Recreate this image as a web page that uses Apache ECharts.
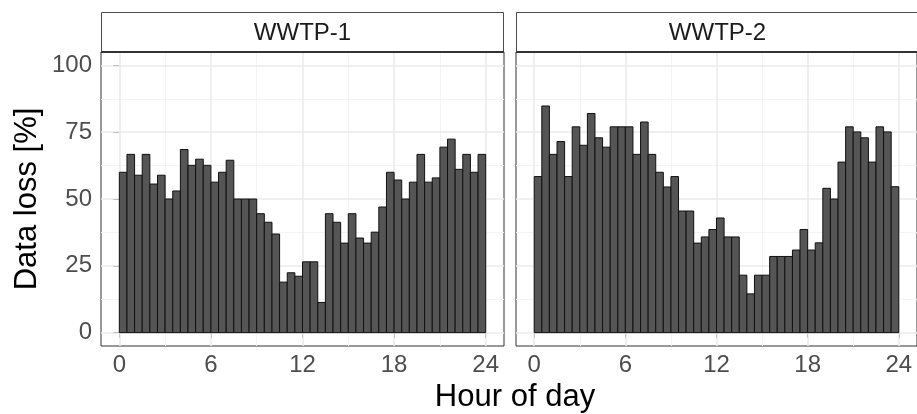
<!DOCTYPE html>
<html>
<head>
<meta charset="utf-8">
<script src="https://cdn.jsdelivr.net/npm/echarts@6/dist/echarts.min.js"></script>
<style>
html,body{margin:0;padding:0;background:#fff;}
#chart{width:917px;height:414px;}
</style>
</head>
<body>
<div id="chart"></div>
<script>
// Half-hour bin starts (hour of day)
const binStart = [0,0.5,1,1.5,2,2.5,3,3.5,4,4.5,5,5.5,6,6.5,7,7.5,8,8.5,9,9.5,10,10.5,11,11.5,
                  12,12.5,13,13.5,14,14.5,15,15.5,16,16.5,17,17.5,18,18.5,19,19.5,20,20.5,21,21.5,22,22.5,23,23.5];
const binWidth = 0.5;
const panels = ['WWTP-1', 'WWTP-2'];
const lossWWTP1 = [60, 66.7, 58.9, 66.7, 55.6, 58.9, 50, 53, 68.5, 62.6,
                   64.9, 62.6, 56.3, 60, 64.5, 50, 50, 50, 44.5, 41.3,
                   36.9, 18.9, 22.4, 21.1, 26.5, 26.5, 11.3, 44.5, 41.3, 33.5,
                   44.5, 35.4, 33.5, 37.6, 47, 60, 57.1, 50, 56.3, 66.7,
                   56.3, 57.9, 69.4, 72.4, 61.1, 66.7, 60, 66.7];
const lossWWTP2 = [58.4, 84.8, 66.7, 71.5, 58.4, 77, 70.1, 82, 72.9, 69.4,
                   77, 77, 77, 66.7, 78.8, 66.7, 60, 54.5, 58.4, 45.5,
                   45.5, 33.5, 35.8, 38.6, 42.9, 35.8, 35.8, 21.5, 14.5, 21.5,
                   21.5, 28.5, 28.5, 28.5, 30.9, 38.6, 30.9, 33.6, 54, 50,
                   63.8, 77, 75.1, 72.9, 63.8, 77, 75.1, 54.6];
const xTicks = [0, 6, 12, 18, 24];
const xMinor = [3, 9, 15, 21];
const yTicks = [0, 25, 50, 75, 100];
const yMinor = [12.5, 37.5, 62.5, 87.5];

const FONT = 'Liberation Sans, Arial, sans-serif';
const chart = echarts.init(document.getElementById('chart'), null, {renderer: 'canvas'});

const gridPos = [
  {left: 101, top: 52, width: 403, height: 294},
  {left: 516, top: 52, width: 403, height: 294}
];

function gridLines() {
  const major = {color: '#EBEBEB', width: 1.6, type: 'solid'};
  const minor = {color: '#F3F3F3', width: 0.9, type: 'solid'};
  const d = [];
  xMinor.forEach(v => d.push({xAxis: v, lineStyle: minor}));
  yMinor.forEach(v => d.push({yAxis: v, lineStyle: minor}));
  xTicks.forEach(v => d.push({xAxis: v, lineStyle: major}));
  yTicks.forEach(v => d.push({yAxis: v, lineStyle: major}));
  return {silent: true, symbol: 'none', label: {show: false}, z: 1, animation: false, data: d};
}

function renderBar(params, api) {
  const x0 = api.value(0), y = api.value(1);
  const p0 = api.coord([x0, y]);
  const p1 = api.coord([x0 + binWidth, 0]);
  return {
    type: 'rect',
    shape: {x: p0[0], y: p0[1], width: p1[0] - p0[0], height: p1[1] - p0[1]},
    style: {fill: '#555555', stroke: '#111111', lineWidth: 1}
  };
}

const series = [lossWWTP1, lossWWTP2].map((vals, i) => ({
  type: 'custom',
  xAxisIndex: i, yAxisIndex: i,
  z: 3,
  renderItem: renderBar,
  encode: {x: 0, y: 1},
  data: binStart.map((h, k) => [h, vals[k]]),
  markLine: gridLines(),
  animation: false
}));

const xAxes = [0, 1].map(i => ({
  type: 'value', gridIndex: i, min: -1.2, max: 25.2,
  axisLine: {show: false},
  splitLine: {show: false},
  axisTick: {show: true, customValues: xTicks, length: 5, lineStyle: {color: '#333333', width: 1}},
  axisLabel: {show: true, customValues: xTicks, color: '#4D4D4D', fontSize: 24, fontFamily: FONT, margin: 7}
}));

const yAxes = [0, 1].map(i => ({
  type: 'value', gridIndex: i, min: -5, max: 105,
  axisLine: {show: false},
  splitLine: {show: false},
  axisTick: {show: i === 0, customValues: yTicks, length: 6, lineStyle: {color: '#333333', width: 1}},
  axisLabel: {show: i === 0, customValues: yTicks, color: '#4D4D4D', fontSize: 24, fontFamily: FONT, margin: 9},
  name: i === 0 ? 'Data loss [%]' : '',
  nameLocation: 'middle',
  nameGap: 58,
  nameTextStyle: {color: '#000000', fontSize: 31, fontFamily: FONT}
}));

const graphics = [];
gridPos.forEach((g, i) => {
  graphics.push({
    type: 'rect', z: 10, silent: true,
    shape: {x: g.left + 0.5, y: 12.5, width: g.width - 1, height: 40},
    style: {fill: '#FFFFFF', stroke: '#4D4D4D', lineWidth: 1}
  });
  graphics.push({
    type: 'line', z: 11, silent: true,
    shape: {x1: g.left, y1: 52, x2: g.left + g.width, y2: 52},
    style: {stroke: '#333333', lineWidth: 2}
  });
  graphics.push({
    type: 'text', z: 12, silent: true,
    x: g.left + g.width / 2, y: 33,
    style: {text: panels[i], fill: '#1A1A1A', fontSize: 24, fontFamily: FONT, textAlign: 'center', textVerticalAlign: 'middle'}
  });
});

chart.setOption({
  animation: false,
  backgroundColor: '#FFFFFF',
  title: {
    text: 'Hour of day', left: 510, top: 377, textAlign: 'center',
    textStyle: {color: '#000000', fontSize: 31, fontWeight: 'normal', fontFamily: FONT}
  },
  grid: gridPos.map(g => Object.assign({show: true, borderColor: '#333333', borderWidth: 1, backgroundColor: '#FFFFFF', containLabel: false}, g)),
  xAxis: xAxes,
  yAxis: yAxes,
  series: series,
  graphic: graphics
});
</script>
</body>
</html>
